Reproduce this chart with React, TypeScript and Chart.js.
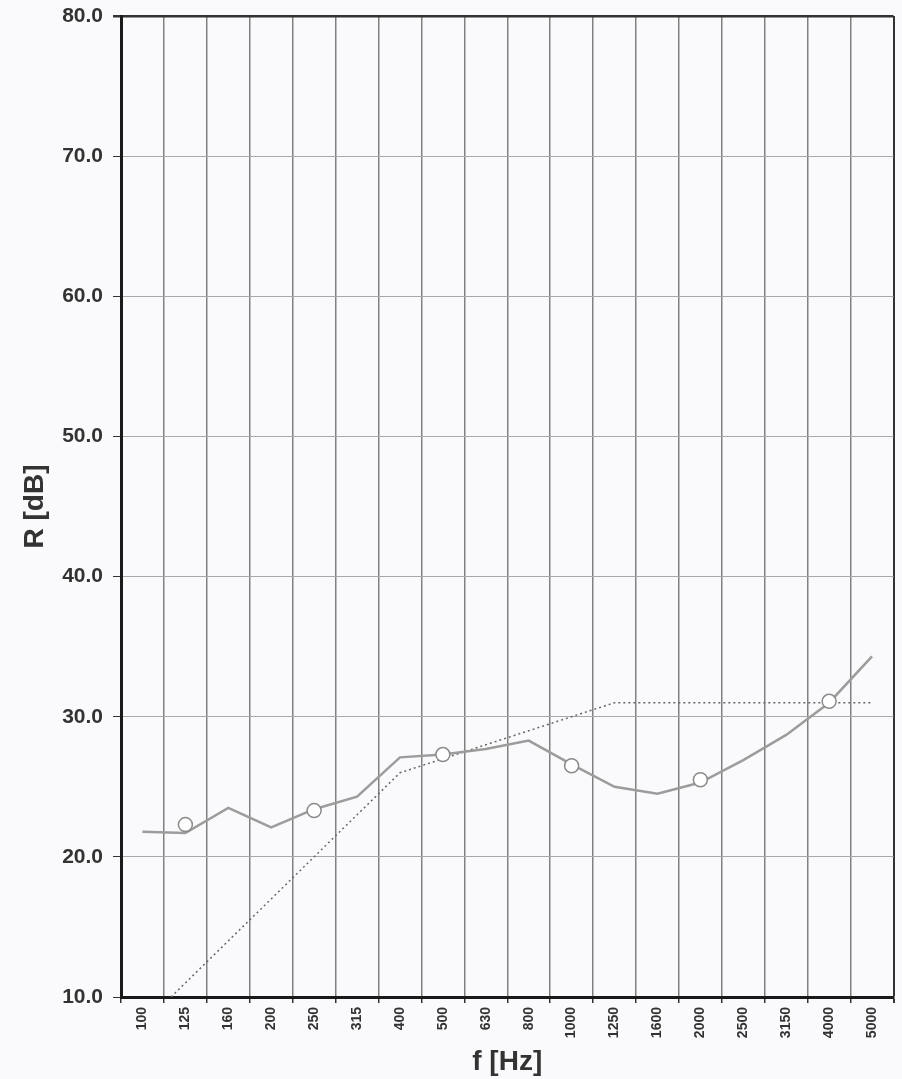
import React, { useEffect, useRef } from "react";
import { Chart, registerables } from "chart.js";

Chart.register(...registerables);

const frequencies = ["100", "125", "160", "200", "250", "315", "400", "500", "630", "800", "1000", "1250", "1600", "2000", "2500", "3150", "4000", "5000"];
const measured = [21.8, 21.7, 23.5, 22.1, 23.4, 24.3, 27.1, 27.3, 27.7, 28.3, 26.6, 25.0, 24.5, 25.3, 26.9, 28.7, 31.0, 34.3];
const reference = [8, 11, 14, 17, 20, 23, 26, 27, 28, 29, 30, 31, 31, 31, 31, 31, 31, 31];
const octave = [null, 22.3, null, null, 23.3, null, null, 27.3, null, null, 26.5, null, null, 25.5, null, null, 31.1, null];
const yTicks = [10, 20, 30, 40, 50, 60, 70, 80];

export default function App() {
  const ref = useRef<HTMLCanvasElement | null>(null);
  useEffect(() => {
    document.body.style.margin = "0";
    const canvas = ref.current;
    if (!canvas) return;
    const font = "'Liberation Sans', Arial, sans-serif";
    const chart = new Chart(canvas, {
      type: "line",
      data: {
        labels: frequencies,
        datasets: [
          {
            label: "octave",
            data: octave,
            showLine: false,
            pointRadius: 7,
            pointHoverRadius: 7,
            pointBackgroundColor: "#ffffff",
            pointBorderColor: "#8a8a8a",
            pointBorderWidth: 1.5,
            order: 0,
          },
          {
            label: "measured",
            data: measured,
            borderColor: "#9c9c9c",
            borderWidth: 2.5,
            pointRadius: 0,
            tension: 0,
            fill: false,
            order: 1,
          },
          {
            label: "reference",
            data: reference,
            borderColor: "#666666",
            borderWidth: 1.5,
            borderDash: [2, 3],
            pointRadius: 0,
            tension: 0,
            fill: false,
            order: 2,
          },
        ],
      },
      options: {
        responsive: false,
        animation: false,
        devicePixelRatio: 1,
        layout: { padding: { top: 16, right: 2, left: 0, bottom: 0 } },
        plugins: {
          legend: { display: false },
          tooltip: { enabled: false },
        },
        scales: {
          x: {
            type: "category",
            offset: true,
            grid: {
              offset: true,
              color: (c: any) => (c.tick ? "#808080" : "#333333"),
              lineWidth: (c: any) => (c.tick ? 1.5 : 2),
              tickLength: 6,
              tickColor: "#333333",
            },
            border: { display: true, color: "#1a1a1a", width: 3 },
            ticks: {
              autoSkip: false,
              minRotation: 90,
              maxRotation: 90,
              padding: 4,
              color: "#333333",
              font: { family: font, size: 14, weight: "bold" },
            },
            title: {
              display: true,
              text: "f [Hz]",
              color: "#333333",
              font: { family: font, size: 28, weight: "bold" },
              padding: { top: 0, bottom: 0 },
            },
            afterFit: (s: any) => {
              s.height = 82;
              s.paddingLeft = 0;
              s.paddingRight = 0;
            },
          },
          y: {
            type: "linear",
            min: 10,
            max: 80,
            afterBuildTicks: (s: any) => {
              s.ticks = yTicks.map((v) => ({ value: v }));
            },
            grid: {
              color: (c: any) => (c.tick && c.tick.value === 80 ? "#333333" : "#a8a8a8"),
              lineWidth: (c: any) => (c.tick && c.tick.value === 80 ? 2.5 : 1),
              tickLength: 8,
              tickColor: "#333333",
            },
            border: { display: true, color: "#1a1a1a", width: 3 },
            ticks: {
              padding: 10,
              color: "#333333",
              font: { family: font, size: 21, weight: "bold" },
              callback: (v: any) => Number(v).toFixed(1),
            },
            title: {
              display: true,
              text: "R [dB]",
              color: "#333333",
              font: { family: font, size: 28, weight: "bold" },
              padding: { top: 18, bottom: 0 },
            },
            afterFit: (s: any) => {
              s.width = 121;
              s.paddingTop = 0;
              s.paddingBottom = 0;
            },
          },
        },
      },
    });
    return () => chart.destroy();
  }, []);
  return (
    <div style={{ width: 902, height: 1079, background: "#fafafc" }}>
      <canvas ref={ref} width={902} height={1079} />
    </div>
  );
}
